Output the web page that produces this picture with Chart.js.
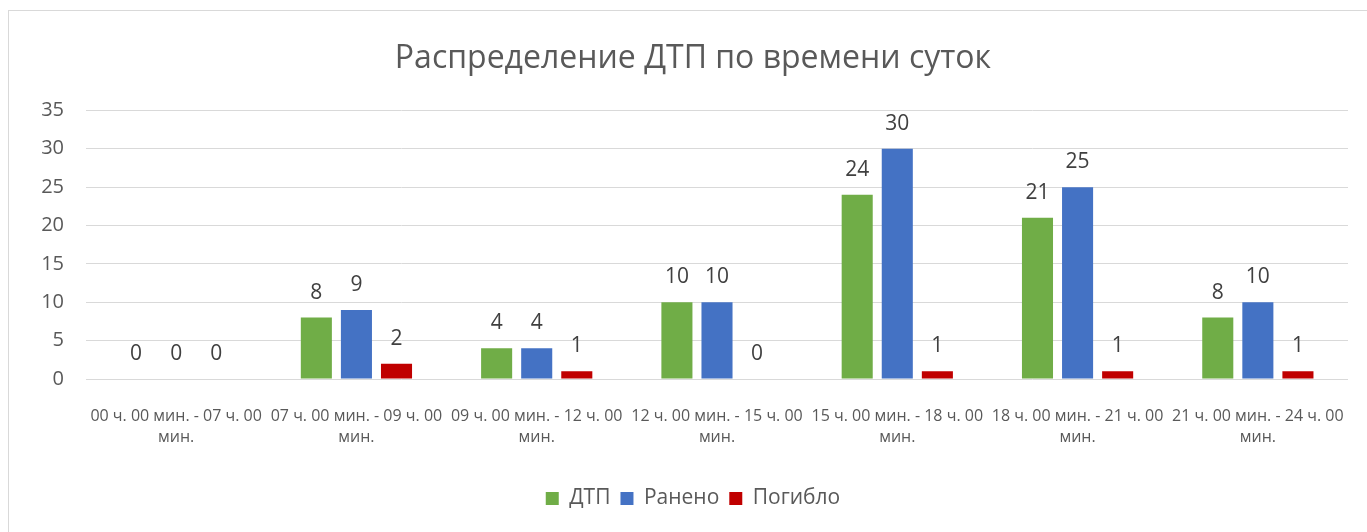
<!DOCTYPE html>
<html>
<head>
<meta charset="utf-8">
<script src="https://cdn.jsdelivr.net/npm/chart.js@4"></script>
<style>
    html, body { margin: 0; padding: 0; background: #fff; }
    #frame { position: absolute; left: 8px; top: 10px; width: 1400px; height: 560px; border: 1px solid #d9d9d9; }
    #wrap { position: absolute; left: 0; top: 0; width: 1367px; height: 532px; }
</style>
</head>
<body>
<div id="frame"></div>
<div id="wrap"><canvas id="dtpChart"></canvas></div>
<script>
const categories = [
    ["00 ч. 00 мин. - 07 ч. 00", "мин."],
    ["07 ч. 00 мин. - 09 ч. 00", "мин."],
    ["09 ч. 00 мин. - 12 ч. 00", "мин."],
    ["12 ч. 00 мин. - 15 ч. 00", "мин."],
    ["15 ч. 00 мин. - 18 ч. 00", "мин."],
    ["18 ч. 00 мин. - 21 ч. 00", "мин."],
    ["21 ч. 00 мин. - 24 ч. 00", "мин."]
];
const dtp = [0, 8, 4, 10, 24, 21, 8];
const injured = [0, 9, 4, 10, 30, 25, 10];
const killed = [0, 2, 1, 0, 1, 1, 1];

const fontFamily = "'Open Sans', 'Noto Sans', sans-serif";

// value labels above each bar
const barLabels = {
    id: "barLabels",
    afterDatasetsDraw(chart) {
        const ctx = chart.ctx;
        ctx.save();
        ctx.font = "21px " + fontFamily;
        ctx.fillStyle = "#404040";
        ctx.textAlign = "center";
        ctx.textBaseline = "middle";
        chart.data.datasets.forEach((ds, i) => {
            chart.getDatasetMeta(i).data.forEach((bar, j) => {
                ctx.fillText(ds.data[j], bar.x, bar.y - 25);
            });
        });
        ctx.restore();
    }
};

const ctx = document.getElementById("dtpChart").getContext("2d");
new Chart(ctx, {
    type: "bar",
    data: {
        labels: categories,
        datasets: [
            { label: "ДТП", data: dtp, backgroundColor: "#70ad47" },
            { label: "Ранено", data: injured, backgroundColor: "#4472c4" },
            { label: "Погибло", data: killed, backgroundColor: "#c00000" }
        ]
    },
    options: {
        responsive: true,
        maintainAspectRatio: false,
        animation: false,
        categoryPercentage: 0.667,
        barPercentage: 0.775,
        layout: { padding: { left: 38, right: 19, top: 0, bottom: 13 } },
        plugins: {
            title: {
                display: true,
                text: "Распределение ДТП по времени суток",
                color: "#595959",
                font: { family: fontFamily, size: 32, weight: "normal" },
                padding: { top: 40, bottom: 32 }
            },
            legend: {
                position: "bottom",
                labels: {
                    color: "#595959",
                    font: { family: fontFamily, size: 21 },
                    boxWidth: 13,
                    boxHeight: 13,
                    padding: 10
                }
            },
            tooltip: { enabled: false }
        },
        scales: {
            x: {
                grid: { display: false },
                border: { display: false },
                ticks: {
                    color: "#595959",
                    font: { family: fontFamily, size: 16, lineHeight: 1.3 },
                    maxRotation: 0,
                    minRotation: 0,
                    autoSkip: false,
                    padding: 19
                },
                afterFit: function(scale) { scale.height = 99; }
            },
            y: {
                min: 0,
                max: 35,
                border: { display: false },
                grid: { color: "#d9d9d9", lineWidth: 1, drawTicks: false },
                ticks: {
                    stepSize: 5,
                    color: "#595959",
                    font: { family: fontFamily, size: 20 },
                    padding: 22
                },
                afterFit: function(scale) { scale.width = 48; }
            }
        }
    },
    plugins: [barLabels]
});
</script>
</body>
</html>
